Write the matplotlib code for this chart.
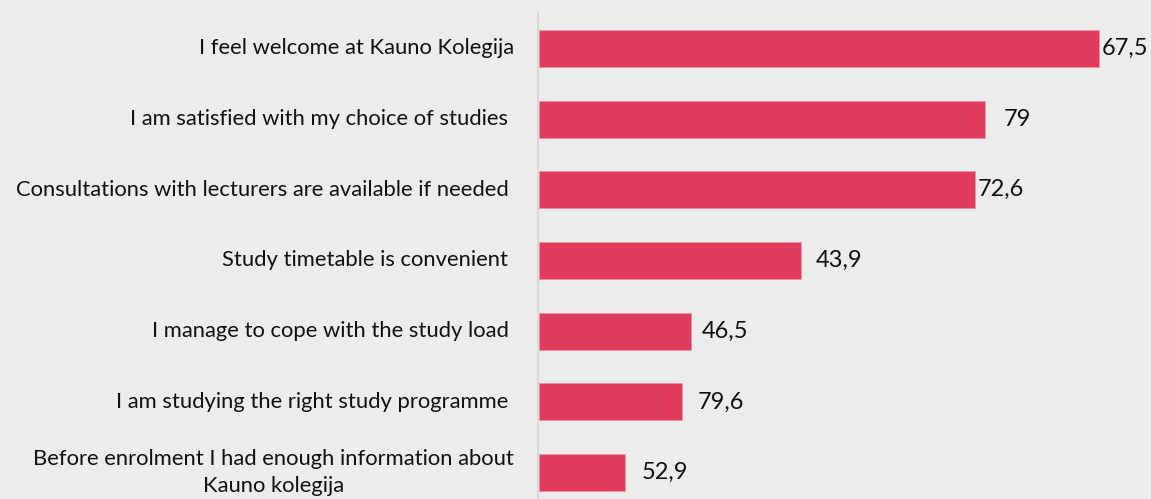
import matplotlib
matplotlib.use("Agg")
import matplotlib.pyplot as plt

plt.rcParams["font.family"] = ["Lato", "DejaVu Sans"]

categories = [
    "I feel welcome at Kauno Kolegija",
    "I am satisfied with my choice of studies ",
    "Consultations with lecturers are available if needed ",
    "Study timetable is convenient ",
    "I manage to cope with the study load ",
    "I am studying the right study programme ",
    "Before enrolment I had enough information about\nKauno kolegija",
]
# bar lengths as drawn (share of axis width), labels as printed
bar_lengths = [91.5, 72.9, 71.2, 42.8, 24.8, 23.3, 14.1]
value_labels = ["67,5", "79", "72,6", "43,9", "46,5", "79,6", "52,9"]
label_gap_px = [3, 19, 3, 15, 11, 16, 16]

BG = "#ececec"
BAR = "#e03a5e"

W, H = 1151, 499
fig = plt.figure(figsize=(W / 100, H / 100), dpi=100, facecolor=BG)
ax = fig.add_axes([539 / W, -9 / H, 612 / W, 495 / H], facecolor=BG)

y = list(range(len(categories)))
ax.barh(y, bar_lengths, height=0.525, color=BAR, edgecolor="#ee8fa3", linewidth=0.6)
ax.set_xlim(0, 100)
ax.set_ylim(len(categories) - 0.5, -0.5)

for yi, v, lab, gap in zip(y, bar_lengths, value_labels, label_gap_px):
    ax.annotate(lab, (v, yi), xytext=(gap, 0), textcoords="offset pixels",
                ha="left", va="center", fontsize=17, color="#111111")

# category labels, right aligned left of the axis line
for yi, cat in zip(y, categories):
    ax.annotate(cat, (0, yi), xycoords=("axes fraction", "data"),
                xytext=(-25, 0), textcoords="offset pixels",
                ha="right", va="center", multialignment="center",
                linespacing=1.4, fontsize=15.8, color="#111111")

ax.set_yticks([])
ax.set_xticks([])
for s in ["top", "right", "bottom"]:
    ax.spines[s].set_visible(False)
ax.spines["left"].set_color("#d9d9d9")
ax.spines["left"].set_linewidth(1.5)
ax.spines["left"].set_position(("outward", 1))

fig.savefig("out.png", dpi=100, facecolor=BG)
